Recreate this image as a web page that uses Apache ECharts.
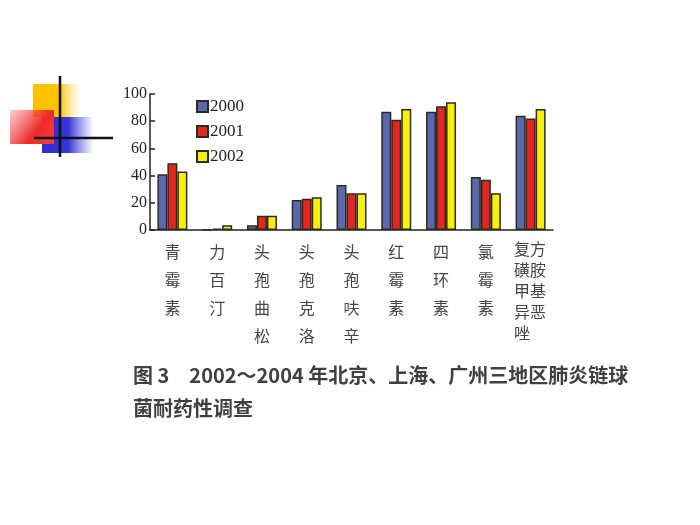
<!DOCTYPE html>
<html>
<head>
<meta charset="utf-8">
<script src="https://cdn.jsdelivr.net/npm/echarts@6/dist/echarts.min.js"></script>
<style>
  html, body { margin: 0; padding: 0; background: #fff; }
  #main { width: 700px; height: 525px; }
</style>
</head>
<body>
<div id="main"></div>
<script>
var drugs = ['青霉素', '力百汀', '头孢曲松', '头孢克洛', '头孢呋辛', '红霉素', '四环素', '氯霉素', '复方\n磺胺\n甲基\n异恶\n唑'];
var years = ['2000', '2001', '2002'];
var y2000 = [41, 0, 3.5, 22, 33, 87, 87, 39, 84];
var y2001 = [49, 1, 10.5, 23, 27, 81, 91, 37, 82];
var y2002 = [43, 3.5, 10.5, 24, 27, 89, 94, 27, 89];
var yTicks = [0, 20, 40, 60, 80, 100];

var barColors = ['#5a68ae', '#e3261f', '#f7ef0c'];
var edge = '#2e2a1e';

// vertical labels: one char per line; the last name is already split in two columns
function vert(name) {
    if (name.indexOf('\n') >= 0) {
        return name.split('\n').map(function (s) { return '{t|' + s + '}'; }).join('\n');
    }
    return name.split('').join('\n');
}

var myChart = echarts.init(document.getElementById('main'));
var option = {
    backgroundColor: '#fff',
    animation: false,
    title: {
        text: '图 3　2002～2004 年北京、上海、广州三地区肺炎链球\n菌耐药性调查',
        left: 128,
        top: 354,
        textStyle: {
            fontFamily: 'Noto Sans CJK SC',
            fontSize: 20,
            fontWeight: 'bold',
            color: '#404040',
            lineHeight: 33
        }
    },
    legend: {
        data: years,
        orient: 'vertical',
        left: 191,
        top: 93,
        itemWidth: 11,
        itemHeight: 11,
        itemGap: 8,
        icon: 'rect',
        textStyle: {
            fontFamily: 'Liberation Serif',
            fontSize: 17,
            color: '#222',
            padding: [0, 0, 0, -3]
        }
    },
    grid: {
        left: 150,
        top: 94,
        width: 403,
        height: 136
    },
    xAxis: {
        type: 'category',
        data: drugs,
        axisLine: { lineStyle: { color: '#222', width: 1.5 } },
        axisTick: { inside: true, length: 6, lineStyle: { color: '#222', width: 1.5 } },
        axisLabel: {
            interval: 0,
            margin: 8,
            fontFamily: 'Noto Sans CJK SC',
            fontSize: 16,
            lineHeight: 28,
            color: '#444',
            verticalAlign: 'top',
            formatter: vert,
            rich: {
                t: { fontFamily: 'Noto Sans CJK SC', fontSize: 16, lineHeight: 21, color: '#444', width: 33, align: 'left' }
            }
        }
    },
    yAxis: {
        type: 'value',
        min: 0,
        max: 100,
        interval: 20,
        splitLine: { show: false },
        axisLine: { show: true, lineStyle: { color: '#222', width: 1.5 } },
        axisTick: { show: true, inside: true, length: 5, lineStyle: { color: '#222', width: 1.5 } },
        axisLabel: {
            margin: 3,
            fontFamily: 'Liberation Serif',
            fontSize: 16,
            color: '#222',
            formatter: function (v) { return yTicks.indexOf(v) >= 0 ? String(v) : ''; }
        }
    },
    series: [y2000, y2001, y2002].map(function (d, i) {
        return {
            name: years[i],
            type: 'bar',
            data: d,
            barWidth: 10,
            barGap: '0%',
            itemStyle: { color: barColors[i], borderColor: edge, borderWidth: 1.5 }
        };
    }),
    graphic: [
        {
            type: 'rect', shape: { x: 33, y: 84, width: 48, height: 33 }, z: 1,
            style: { fill: new echarts.graphic.LinearGradient(0, 0, 1, 0, [
                { offset: 0, color: '#ffc000' }, { offset: 0.55, color: '#ffc400' }, { offset: 1, color: 'rgba(255,220,120,0)' }
            ]) }
        },
        {
            type: 'rect', shape: { x: 42, y: 117, width: 52, height: 36 }, z: 2,
            style: { fill: new echarts.graphic.LinearGradient(0, 0, 1, 0, [
                { offset: 0, color: '#2b2bd0' }, { offset: 0.5, color: '#3535d8' }, { offset: 1, color: 'rgba(90,90,230,0)' }
            ]) }
        },
        {
            type: 'rect', shape: { x: 10, y: 110, width: 44, height: 34 }, z: 3,
            style: { fill: new echarts.graphic.LinearGradient(0, 0, 1, 1, [
                { offset: 0, color: 'rgba(240,90,90,0.3)' }, { offset: 0.6, color: '#ee2a2a' }, { offset: 1, color: '#f04040' }
            ]) }
        },
        {
            type: 'line', shape: { x1: 60, y1: 76, x2: 60, y2: 157 }, z: 4,
            style: { stroke: '#111', lineWidth: 2.5 }
        },
        {
            type: 'line', shape: { x1: 34, y1: 138, x2: 113, y2: 138 }, z: 4,
            style: { stroke: '#111', lineWidth: 2.5 }
        }
    ]
};
myChart.setOption(option);
</script>
</body>
</html>
